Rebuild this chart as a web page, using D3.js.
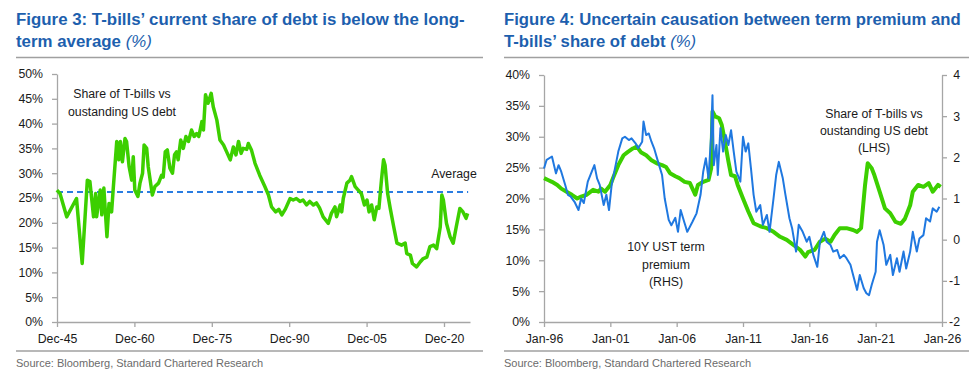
<!DOCTYPE html>
<html>
<head>
<meta charset="utf-8">
<script src="https://cdn.jsdelivr.net/npm/d3@7"></script>
<style>
body { margin: 0; background: #fff; }
svg { font-family: "Liberation Sans", Arial, sans-serif; }
.axis path, .axis line { stroke: #a6a6a6; stroke-width: 1.3; }
.axis text { font-size: 12.3px; fill: #1a1a1a; }
.title { font-size: 17px; font-weight: bold; fill: #1d5fae; }
.source { font-size: 11px; fill: #6b6b6b; }
.note { font-size: 12.3px; fill: #1a1a1a; text-anchor: middle; }
</style>
</head>
<body>
<div id="chart-area"></div>
<script>

// ---- Figure 3 data: T-bills share of debt, decimal years ----
var fig3Years = [1945.9,1946.5,1947.8,1949.7,1950.8,1951.8,1952.3,1953.0,1953.4,1953.6,1954.3,1954.6,1955.0,1955.6,1956.0,1956.5,1956.8,
  1957.5,1957.9,1958.2,1958.6,1959.1,1959.4,1959.9,1960.4,1960.7,1961.0,1961.6,1962.0,1962.5,1962.8,1963.3,1963.6,1964.4,1964.9,
  1965.6,1966.2,1966.5,1966.9,1967.3,1967.8,1968.3,1968.7,1969.1,1969.4,1969.9,1970.4,1970.9,1971.4,1972.0,1972.5,1973.0,1973.4,
  1974.0,1974.3,1974.7,1975.2,1975.8,1976.2,1976.9,1977.5,1978.2,1978.8,1979.5,1980.1,1980.6,1981.1,1981.6,1982.0,1982.7,1983.0,
  1983.6,1984.3,1985.2,1986.2,1986.9,1987.5,1988.3,1988.9,1989.5,1990.2,1991.1,1991.7,1992.3,1993.0,1993.6,1994.3,1994.9,1995.6,
  1996.2,1996.8,1997.5,1998.5,1999.1,1999.8,2000.1,2000.8,2001.1,2001.4,2002.1,2002.7,2003.0,2003.7,2004.3,2004.9,2005.5,2006.0,
  2006.4,2006.9,2007.4,2007.9,2008.3,2008.8,2009.2,2009.5,2010.0,2010.5,2011.1,2011.8,2012.7,2013.4,2013.7,2014.4,2014.8,2015.6,
  2016.3,2016.9,2017.6,2018.2,2018.9,2019.5,2020.2,2020.5,2020.8,2021.4,2022.1,2022.7,2023.3,2024.0,2024.6,2025.2,2025.5];
var fig3Share = [26.6,25.9,21.2,24.9,11.8,28.6,28.3,21.2,25.9,21.2,26.6,21.6,27.0,17.2,23.9,22.2,26.6,
  36.4,32.7,36.4,32.3,37.0,36.4,31.3,28.6,33.3,26.6,25.3,28.0,30.0,35.7,35.0,31.3,25.6,27.3,
  28.0,29.6,29.2,34.3,34.7,31.0,30.0,33.7,34.3,32.7,36.7,35.0,37.4,36.4,38.7,37.4,38.0,37.4,
  40.4,38.7,45.8,44.1,46.1,43.4,40.7,36.7,35.7,34.3,32.7,35.3,33.7,36.4,34.0,35.0,34.8,36.0,
  34.7,32.0,29.6,27.3,25.6,23.2,22.2,22.7,21.6,22.8,24.9,24.6,24.9,24.3,24.6,23.6,24.3,23.6,
  24.0,23.0,21.2,19.9,21.9,23.2,21.2,23.6,22.2,24.9,28.0,28.6,29.3,27.3,26.6,25.9,23.6,24.6,
  22.2,23.6,20.6,23.2,22.9,28.6,32.7,31.6,25.9,22.9,19.6,15.9,15.5,15.9,13.8,13.5,11.8,11.1,
  12.1,12.8,13.1,15.2,15.5,14.8,19.2,25.6,24.6,19.9,17.2,15.9,19.2,22.9,22.2,20.9,21.9];
var fig3Average = 26.2;
var fig3TickYears = [1945.92,1960.92,1975.92,1990.92,2005.92,2020.92];
var fig3TickLabels = ["Dec-45","Dec-60","Dec-75","Dec-90","Dec-05","Dec-20"];

// ---- Figure 4 data ----
var fig4ShareYears = [1996.0,1996.3,1996.6,1997.0,1997.3,1997.7,1998.1,1998.5,1998.8,1999.2,1999.7,2000.1,2000.3,2000.6,2001.0,
  2001.2,2001.6,2002.0,2002.3,2002.7,2003.0,2003.3,2003.7,2004.1,2004.5,2004.9,2005.2,2005.5,2005.9,2006.2,2006.6,2007.0,2007.4,
  2007.6,2008.0,2008.4,2008.6,2008.7,2008.9,2009.2,2009.4,2009.6,2009.9,2010.1,2010.4,2010.6,2011.0,2011.4,2011.8,2012.3,2012.8,
  2013.3,2013.8,2014.3,2014.8,2015.3,2015.7,2015.9,2016.4,2016.8,2017.2,2017.6,2017.9,2018.3,2018.8,2019.3,2019.6,2019.9,2020.2,
  2020.4,2020.7,2020.9,2021.3,2021.7,2022.1,2022.5,2022.9,2023.2,2023.6,2023.8,2024.2,2024.6,2025.0,2025.3,2025.7,2025.9];
var fig4Share = [23.3,23.0,22.7,22.2,21.6,21.1,20.6,20.0,20.3,20.6,21.4,21.1,21.6,21.1,22.2,
  23.3,25.4,27.0,27.5,28.1,28.4,27.5,27.0,26.2,25.7,25.4,25.1,24.1,23.6,23.3,22.7,22.5,20.6,
  22.2,22.7,23.0,24.9,34.1,33.3,33.0,31.9,29.7,26.0,23.8,23.6,22.2,20.0,17.9,16.0,15.5,15.2,
  14.6,13.8,13.3,12.5,11.7,10.6,11.3,11.7,13.0,13.5,13.0,14.1,15.2,15.2,14.9,14.6,15.2,22.2,
  25.7,24.9,23.8,21.1,18.4,17.6,16.2,15.9,16.7,18.9,21.1,22.2,21.9,22.5,21.1,22.2,21.9];
var fig4PremYears = [1996.0,1996.2,1996.6,1996.9,1997.1,1997.3,1997.6,1997.8,1998.0,1998.3,1998.6,1998.8,1999.0,1999.3,1999.6,
  1999.8,2000.0,2000.2,2000.5,2000.7,2000.9,2001.1,2001.4,2001.6,2001.9,2002.1,2002.4,2002.6,2002.9,2003.1,2003.4,2003.5,2003.7,
  2003.9,2004.1,2004.3,2004.6,2004.9,2005.1,2005.4,2005.6,2005.9,2006.1,2006.3,2006.6,2006.8,2007.2,2007.5,2007.8,2008.0,2008.2,
  2008.4,2008.6,2008.7,2008.8,2009.0,2009.1,2009.3,2009.5,2009.7,2009.9,2010.1,2010.3,2010.5,2010.8,2011.0,2011.2,2011.4,2011.6,
  2011.8,2012.0,2012.3,2012.5,2012.8,2013.0,2013.3,2013.5,2013.7,2014.0,2014.2,2014.5,2014.7,2015.0,2015.2,2015.5,2015.8,2016.0,
  2016.3,2016.6,2016.8,2017.1,2017.3,2017.6,2017.8,2018.1,2018.3,2018.6,2018.8,2019.1,2019.3,2019.6,2019.8,2020.1,2020.3,2020.5,
  2020.7,2021.0,2021.1,2021.3,2021.6,2021.8,2022.1,2022.3,2022.6,2022.8,2023.1,2023.3,2023.6,2023.8,2024.1,2024.3,2024.6,2024.8,
  2025.1,2025.3,2025.6,2025.8];
var fig4Premium = [1.73,1.94,2.02,1.61,1.81,1.65,1.33,1.09,1.05,0.92,0.72,1.00,0.89,1.41,1.65,
  1.81,1.49,1.33,0.84,1.09,0.72,1.33,1.81,2.14,2.46,2.50,2.42,2.46,2.34,2.22,2.38,2.87,2.54,
  2.58,2.38,2.22,1.89,1.57,1.00,0.48,0.35,0.53,0.19,0.72,0.40,0.19,0.44,0.64,1.09,1.65,1.98,
  1.49,2.54,3.51,1.81,2.30,1.57,2.71,2.14,2.54,2.30,2.66,2.14,1.65,1.41,2.50,2.14,2.34,1.73,
  1.09,0.68,0.84,0.36,0.60,0.19,1.00,1.57,1.89,1.49,1.09,0.52,0.28,-0.29,0.36,0.19,-0.05,0.07,
  -0.37,-0.66,-0.05,0.19,-0.05,-0.13,-0.29,-0.25,-0.45,-0.37,-0.45,-0.61,-0.86,-1.22,-0.86,-1.18,-1.30,-1.35,
  -1.10,-0.78,-0.05,0.23,-0.13,-0.61,-0.37,-0.86,-0.45,-0.78,-0.29,-0.70,-0.29,0.19,-0.29,0.03,0.11,0.52,
  0.44,0.76,0.68,0.80];
var fig4TickYears = [1996,2001,2006,2011,2016,2021,2026];
var fig4TickLabels = ["Jan-96","Jan-01","Jan-06","Jan-11","Jan-16","Jan-21","Jan-26"];

var green = "#3ccf00", blue = "#1f78e0";

var svg = d3.select("#chart-area")
    .append("svg")
    .attr("width", 975)
    .attr("height", 375);

// ---- frames: titles, rules, source ----
// titles in the reference are narrower than Arial bold, so squeeze them horizontally
function frame(x0, x1, line1, line1Len, line2) {
    var g1 = svg.append("g");
    var t1 = g1.append("text").attr("class", "title").text(line1);
    var sx = line1Len / t1.node().getComputedTextLength();
    g1.attr("transform", "translate(" + x0 + ",25) scale(" + sx + ",1)");

    var g2 = svg.append("g").attr("transform", "translate(" + x0 + ",47) scale(" + sx + ",1)");
    var t2 = g2.append("text").attr("class", "title");
    t2.append("tspan").text(line2 + " ");
    t2.append("tspan").attr("font-style", "italic").attr("font-weight", "normal").text("(%)");

    svg.append("line").attr("x1", x0).attr("x2", x1).attr("y1", 57.5).attr("y2", 57.5)
        .attr("stroke", "#a0a0a0").attr("stroke-width", 1.5);
    svg.append("line").attr("x1", x0).attr("x2", x1).attr("y1", 351).attr("y2", 351)
        .attr("stroke", "#a0a0a0").attr("stroke-width", 1.5);
    svg.append("text").attr("class", "source").attr("x", x0).attr("y", 367)
        .text("Source: Bloomberg, Standard Chartered Research");
}
frame(16, 483, "Figure 3: T-bills\u2019 current share of debt is below the long-", 449, "term average");
frame(504, 969, "Figure 4: Uncertain causation between term premium and", 457, "T-bills\u2019 share of debt");

function notes(lines, cx, y0, dy) {
    lines.forEach(function(s, i) {
        svg.append("text").attr("class", "note").attr("x", cx).attr("y", y0 + i * dy).text(s);
    });
}

// ---- Figure 3 ----
var x3 = d3.scaleLinear().domain([1945.92, 2025.96]).range([57, 470]);
var y3 = d3.scaleLinear().domain([0, 50]).range([322, 74]);

svg.append("g").attr("class", "axis")
    .attr("transform", "translate(57,0)")
    .call(d3.axisLeft(y3).tickValues(d3.range(0, 51, 5)).tickFormat(d => d + "%")
        .tickSize(5).tickSizeOuter(0).tickPadding(9));
svg.append("g").attr("class", "axis")
    .attr("transform", "translate(0,322)")
    .call(d3.axisBottom(x3).tickValues(fig3TickYears).tickFormat((d, i) => fig3TickLabels[i])
        .tickSize(5).tickSizeOuter(0).tickPadding(7));

svg.append("line")
    .attr("x1", x3(1945.92)).attr("x2", x3(2025.6))
    .attr("y1", y3(fig3Average)).attr("y2", y3(fig3Average))
    .attr("stroke", "#2a7de1").attr("stroke-width", 2).attr("stroke-dasharray", "6,4");

var line3 = d3.line().x((d, i) => x3(fig3Years[i])).y(d => y3(d));
svg.append("path").datum(fig3Share)
    .attr("d", line3).attr("fill", "none")
    .attr("stroke", green).attr("stroke-width", 3.5).attr("stroke-linejoin", "round");

notes(["Share of T-bills vs", "oustanding US debt"], 122, 98, 18);
notes(["Average"], 454, 178, 18);

// ---- Figure 4 ----
var x4 = d3.scaleLinear().domain([1996, 2026]).range([544, 942]);
var yL = d3.scaleLinear().domain([0, 40]).range([322, 75]);
var yR = d3.scaleLinear().domain([-2, 4]).range([322, 75]);

svg.append("g").attr("class", "axis")
    .attr("transform", "translate(544,0)")
    .call(d3.axisLeft(yL).tickValues(d3.range(0, 41, 5)).tickFormat(d => d + "%")
        .tickSize(5).tickSizeOuter(0).tickPadding(9));
var gR = svg.append("g").attr("class", "axis")
    .attr("transform", "translate(942,0)")
    .call(d3.axisRight(yR).tickValues(d3.range(-2, 5, 1)).tickFormat(d => String(d))
        .tickSize(5).tickSizeOuter(0).tickPadding(9));
gR.selectAll("text").attr("text-anchor", "end").attr("x", 18);
svg.append("g").attr("class", "axis")
    .attr("transform", "translate(0,322)")
    .call(d3.axisBottom(x4).tickValues(fig4TickYears).tickFormat((d, i) => fig4TickLabels[i])
        .tickSize(5).tickSizeOuter(0).tickPadding(7));

var lineShare = d3.line().x((d, i) => x4(fig4ShareYears[i])).y(d => yL(d));
svg.append("path").datum(fig4Share)
    .attr("d", lineShare).attr("fill", "none")
    .attr("stroke", green).attr("stroke-width", 4).attr("stroke-linejoin", "round");

var linePrem = d3.line().x((d, i) => x4(fig4PremYears[i])).y(d => yR(d));
svg.append("path").datum(fig4Premium)
    .attr("d", linePrem).attr("fill", "none")
    .attr("stroke", blue).attr("stroke-width", 2).attr("stroke-linejoin", "round");

notes(["10Y UST term", "premium", "(RHS)"], 666, 251, 17.5);
notes(["Share of T-bills vs", "oustanding US debt", "(LHS)"], 874, 118, 17);

</script>
</body>
</html>
